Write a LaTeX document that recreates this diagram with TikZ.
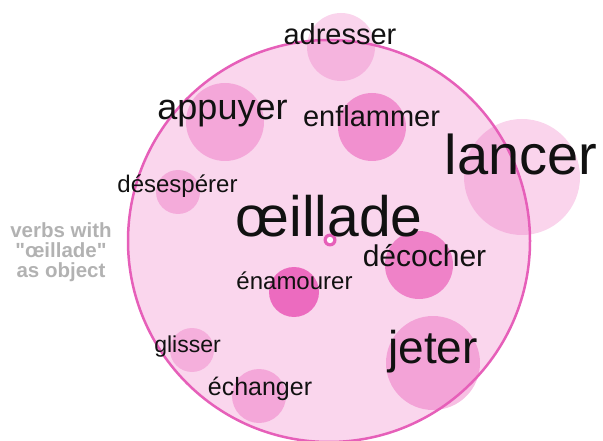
\documentclass[tikz,border=0pt]{standalone}
\usepackage{fontspec}
\setmainfont{Liberation Sans}[Ligatures=TeXOff]
\definecolor{rose}{RGB}{230,60,170}
\definecolor{rim}{RGB}{230,95,185}
\definecolor{notegray}{RGB}{178,178,178}
\definecolor{ink}{RGB}{17,17,17}
\tikzset{
  word/.style={anchor=base, inner sep=0pt, text=ink, font=\fontsize{#1bp}{#1bp}\selectfont},
  bubble/.style={fill=rose, fill opacity=#1}
}
\begin{document}
\begin{tikzpicture}[x=1bp, y=-1bp]
\useasboundingbox (0,0) rectangle (603,441);
% the object noun's field
\fill[rose, fill opacity=0.21] (329,241) circle (201);
% verb bubbles
\fill[bubble=0.22] (341,47) circle (34);
\fill[bubble=0.30] (225,122) circle (39);
\fill[bubble=0.45] (372,127) circle (34);
\fill[bubble=0.22] (522,177) circle (58);
\fill[bubble=0.28] (178,192) circle (22);
\fill[bubble=0.55] (419,265) circle (34);
\fill[bubble=0.69] (294,292) circle (25);
\fill[bubble=0.25] (192,350) circle (22);
\fill[bubble=0.30] (259,396) circle (27);
\fill[bubble=0.33] (433,363) circle (47);
% outline of the field and its centre mark
\draw[rim, line width=2.5bp] (329,241) circle (201);
\fill[rim] (330,240) circle (6.5);
\fill[white] (330,240) circle (3.2);
% verbs
\node[word=29] (adresser) at (340,45) {adresser};
\node[word=36] (appuyer) at (222.5,120) {appuyer};
\node[word=29] (enflammer) at (371.5,127) {enflammer};
\node[word=56] (lancer) at (521,175) {lancer};
\node[word=24] (desesperer) at (177.5,193) {désespérer};
\node[word=57] (oeillade) at (329,236.5) {œillade};
\node[word=30] (decocher) at (424.5,266.5) {décocher};
\node[word=24] (enamourer) at (294.5,290) {énamourer};
\node[word=23] (glisser) at (187.5,352) {glisser};
\node[word=25] (echanger) at (260,395) {échanger};
\node[word=46] (jeter) at (433,363) {jeter};
% caption
\node[anchor=center, align=center, inner sep=0pt, text=notegray,
      font=\bfseries\fontsize{20.5bp}{20bp}\selectfont] (caption) at (61,252)
  {verbs with\\"œillade"\\as object};
\end{tikzpicture}
\end{document}
